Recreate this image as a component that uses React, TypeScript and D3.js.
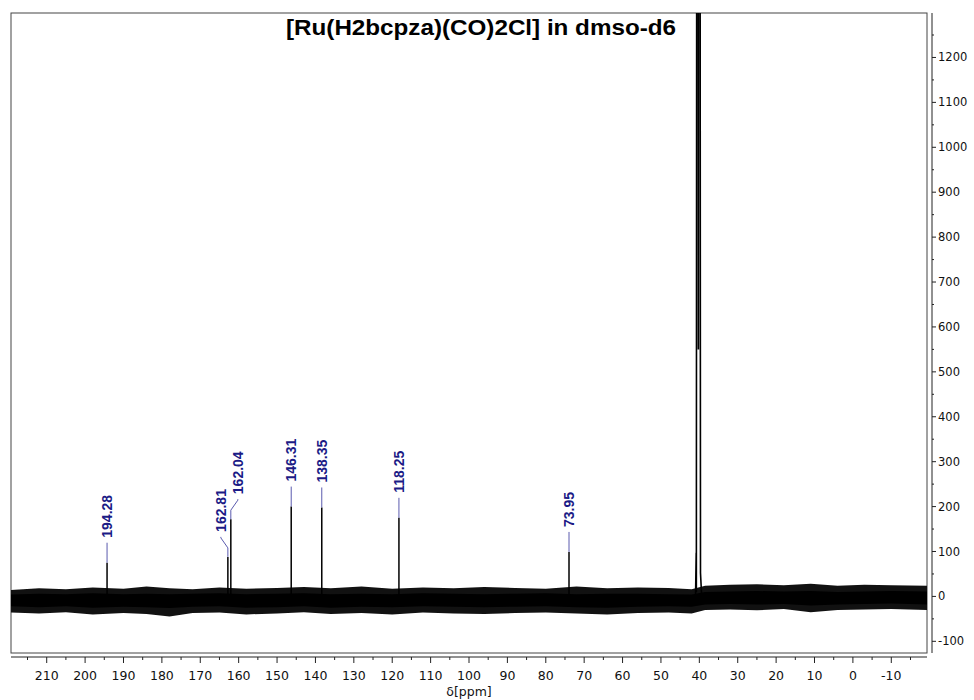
import React from "react";
import * as d3 from "d3";

// 13C NMR spectrum
const title = "[Ru(H2bcpza)(CO)2Cl] in dmso-d6";
const xLabel = "δ[ppm]";

// labelled peaks
const peakPpm = [194.28, 162.81, 162.04, 146.31, 138.35, 118.25, 73.95];
const peakHeight = [75, 88, 172, 200, 198, 175, 99];
const peakLabels = ["194.28", "162.81", "162.04", "146.31", "138.35", "118.25", "73.95"];

// dmso-d6 solvent multiplet (goes off the top of the plot)
const solventPpm = [41.0, 40.82, 40.78, 40.6, 40.45, 40.35, 40.25, 40.15, 40.0, 39.9, 39.7, 39.45, 39.35];
const solventValue = [-8, 97, 10, 3000, 1500, 3000, 550, 3000, 1500, 3000, 52, 10, -6];

// baseline noise envelope (outer spikes and dense core)
const noisePpm = [219.3, 212, 205, 198, 190, 184, 178, 172, 165, 158, 150, 143, 136, 128, 120, 112, 104, 96, 88, 80, 72, 64, 56, 48, 42, 38.5, 32, 25, 18, 11, 4, -3, -10, -19.3];
const noiseHigh = [14, 18, 16, 20, 17, 22, 18, 16, 20, 17, 19, 21, 18, 22, 17, 20, 18, 21, 19, 17, 22, 18, 20, 19, 16, 24, 26, 27, 25, 28, 24, 26, 25, 24];
const noiseLow = [-36, -38, -35, -40, -37, -39, -45, -37, -36, -40, -38, -35, -39, -37, -40, -36, -38, -39, -37, -36, -38, -40, -37, -36, -38, -30, -29, -31, -28, -35, -30, -29, -28, -30];
const coreHigh = [4, 6, 5, 7, 5, 6, 5, 6, 7, 5, 6, 7, 5, 6, 5, 7, 6, 5, 6, 7, 5, 6, 6, 5, 4, 10, 11, 12, 11, 12, 10, 11, 12, 11];
const coreLow = [-22, -24, -22, -25, -23, -24, -26, -23, -22, -25, -24, -22, -25, -23, -24, -22, -23, -24, -23, -22, -24, -25, -23, -22, -23, -18, -17, -18, -17, -20, -18, -17, -16, -18];

const yTickValues = d3.range(-100, 1300, 50);
const xTickValues = d3.range(-15, 216, 5);

const W = 974;
const H = 700;
const left = 11, right = 927, top = 13, bottom = 653;

export default function App() {
    const x = d3.scaleLinear().domain([219.3, -19.3]).range([left, right]);
    const y = d3.scaleLinear().domain([-126, 1299]).range([bottom, top]);

    const outer = d3.area<number>()
        .x((_, i) => x(noisePpm[i]))
        .y0((_, i) => y(noiseLow[i]))
        .y1((_, i) => y(noiseHigh[i]));
    const core = d3.area<number>()
        .x((_, i) => x(noisePpm[i]))
        .y0((_, i) => y(coreLow[i]))
        .y1((_, i) => y(coreHigh[i]));
    const solventLine = d3.line<number>()
        .x((_, i) => x(solventPpm[i]))
        .y((v) => y(v));

    // spread labels that would overlap
    const px = peakPpm.map((p) => x(p));
    const lx = px.slice();
    const gap = 17;
    for (let k = 0; k < 20; k++) {
        for (let i = 1; i < lx.length; i++) {
            const d = lx[i] - lx[i - 1];
            if (Math.abs(d) < gap) {
                const mid = (lx[i] + lx[i - 1]) / 2;
                const s = lx[i] >= lx[i - 1] ? 1 : -1;
                lx[i - 1] = mid - (s * gap) / 2;
                lx[i] = mid + (s * gap) / 2;
            }
        }
    }

    const labelColor = "#1b1b86";

    return (
        <svg width={W} height={H} style={{display: "block", position: "absolute", left: 0, top: 0, background: "#fff"}}>
            <defs>
                <clipPath id="plot">
                    <rect x={left} y={top} width={right - left} height={bottom - top} />
                </clipPath>
            </defs>

            {/* frame */}
            <rect x={left} y={top} width={right - left} height={bottom - top} fill="none" stroke="#444" strokeWidth={1} />

            {/* title */}
            <text x={481} y={35} textAnchor="middle" fontFamily="Liberation Sans, Arial, sans-serif"
                  fontWeight="bold" fontSize={22} textLength={390} lengthAdjust="spacingAndGlyphs" fill="#000">{title}</text>

            <g clipPath="url(#plot)">
                <path d={outer(noisePpm) || ""} fill="#111" />
                <path d={core(noisePpm) || ""} fill="#000" />
                {peakPpm.map((p, i) => (
                    <line key={i} x1={x(p)} x2={x(p)} y1={y(-20)} y2={y(peakHeight[i])} stroke="#000" strokeWidth={1.5} />
                ))}
                <path d={solventLine(solventValue) || ""} fill="none" stroke="#000" strokeWidth={1.6} />
            </g>

            {/* peak labels */}
            {peakPpm.map((p, i) => {
                const t = y(peakHeight[i]);
                const moved = Math.abs(lx[i] - px[i]) > 0.5;
                const pts = moved
                    ? [[px[i], t], [px[i], t - 9], [lx[i], t - 19], [lx[i], t - 20]]
                    : [[px[i], t], [px[i], t - 20]];
                return (
                    <g key={i}>
                        <polyline points={pts.map((q) => q.join(",")).join(" ")} fill="none" stroke="#5a5aae" strokeWidth={1} />
                        <text transform={`translate(${lx[i]},${t - 25}) rotate(-90)`} dy="0.35em"
                              fontFamily="Liberation Sans, Arial, sans-serif" fontWeight="bold" fontSize={14}
                              fill={labelColor}>{peakLabels[i]}</text>
                    </g>
                );
            })}

            {/* x axis */}
            <line x1={left} x2={right} y1={657} y2={657} stroke="#222" strokeWidth={1} />
            {xTickValues.map((v) => (
                <line key={v} x1={x(v)} x2={x(v)} y1={657} y2={v % 10 === 0 ? 663 : 660} stroke="#222" strokeWidth={1} />
            ))}
            {xTickValues.filter((v) => v % 10 === 0).map((v) => (
                <text key={v} x={x(v)} y={680} textAnchor="middle" fontFamily="DejaVu Sans, sans-serif"
                      fontSize={12.5} fill="#111">{v}</text>
            ))}
            <text x={(left + right) / 2} y={696} textAnchor="middle" fontFamily="DejaVu Sans, sans-serif"
                  fontSize={12.5} fill="#111">{xLabel}</text>

            {/* y axis */}
            <line x1={932} x2={932} y1={top} y2={bottom} stroke="#222" strokeWidth={1} />
            {yTickValues.map((v) => (
                <line key={v} x1={932} x2={v % 100 === 0 ? 936 : 934} y1={y(v)} y2={y(v)} stroke="#222" strokeWidth={1} />
            ))}
            {yTickValues.filter((v) => v % 100 === 0).map((v) => (
                <text key={v} x={938} y={y(v)} dy="0.35em" fontFamily="DejaVu Sans, sans-serif"
                      fontSize={11.5} fill="#111">{v}</text>
            ))}
        </svg>
    );
}
